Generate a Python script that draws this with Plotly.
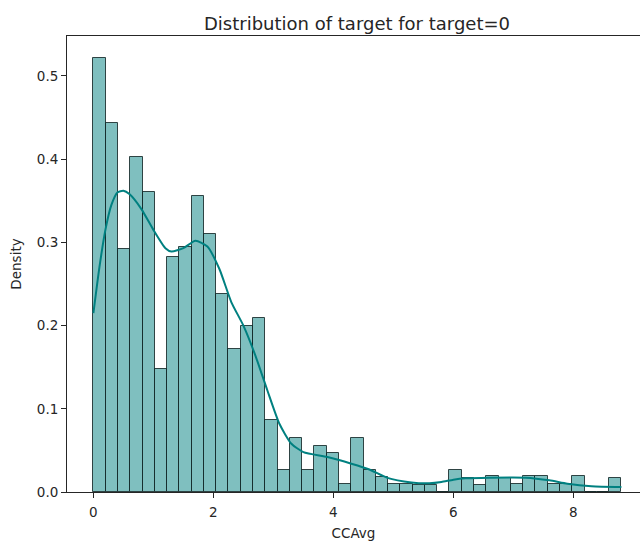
import numpy as np
import plotly.graph_objects as go

# ---- data ----
bin_start = 0.0
bin_end = 8.8
n_bins = 43
densities = [0.521, 0.443, 0.292, 0.402, 0.360, 0.148, 0.282, 0.295, 0.356, 0.310,
             0.238, 0.172, 0.200, 0.209, 0.087, 0.027, 0.065, 0.027, 0.055, 0.047,
             0.010, 0.065, 0.027, 0.018, 0.010, 0.010, 0.008, 0.008, 0.0, 0.027,
             0.017, 0.008, 0.019, 0.017, 0.010, 0.019, 0.019, 0.010, 0.010, 0.019,
             0.0, 0.0, 0.017]
kde_x = [0, 0.1, 0.2, 0.3, 0.4, 0.5, 0.6, 0.8, 1.0, 1.2, 1.3, 1.5, 1.7, 1.9, 2.1,
         2.3, 2.5, 2.7, 2.9, 3.1, 3.3, 3.5, 3.9, 4.3, 4.6, 4.9, 5.3, 5.6, 5.8, 6.0,
         6.2, 6.6, 7.2, 7.6, 7.9, 8.3, 8.8]
kde_y = [0.215, 0.27, 0.315, 0.345, 0.36, 0.362, 0.358, 0.34, 0.315, 0.293, 0.289,
         0.293, 0.302, 0.295, 0.268, 0.228, 0.2, 0.164, 0.122, 0.082, 0.058, 0.048,
         0.042, 0.034, 0.027, 0.017, 0.0115, 0.0105, 0.012, 0.0148, 0.0164, 0.0172,
         0.0172, 0.014, 0.010, 0.007, 0.006]
x_ticks = [0, 2, 4, 6, 8]
y_ticks = [0.0, 0.1, 0.2, 0.3, 0.4, 0.5]
title = "Distribution of target for target=0"
x_label = "CCAvg"
y_label = "Density"

edges = np.linspace(bin_start, bin_end, n_bins + 1)
width = edges[1] - edges[0]
centers = (edges[:-1] + edges[1:]) / 2

FONT = "DejaVu Sans"
fig = go.Figure()
fig.add_trace(go.Bar(
    x=centers, y=densities, width=width,
    marker=dict(color="rgba(0,128,128,0.5)",
                line=dict(color="rgba(20,40,40,0.85)", width=1)),
    showlegend=False, hoverinfo="skip"))
fig.add_trace(go.Scatter(
    x=kde_x, y=kde_y, mode="lines",
    line=dict(color="#008080", width=2, shape="spline", smoothing=0.6),
    showlegend=False))

fig.update_layout(
    width=640, height=541,
    margin=dict(l=67, r=0, t=36, b=49),
    paper_bgcolor="white", plot_bgcolor="white",
    bargap=0,
    font=dict(family=FONT, size=12, color="#262626"),
    title=dict(text=title, x=357 / 640, xref="container", xanchor="center",
               y=1 - 24 / 541, yref="container", yanchor="middle",
               font=dict(family=FONT, size=18, color="#262626")),
)
fig.update_xaxes(
    range=[-0.44, 9.11], tickvals=x_ticks, ticktext=[str(t) for t in x_ticks],
    showgrid=False, zeroline=False, showline=True, linecolor="#262626", linewidth=1,
    mirror=True, ticks="outside", ticklen=5, tickcolor="#262626",
    tickfont=dict(size=13.5), ticklabelstandoff=3,
    title=dict(text=x_label, font=dict(size=13.5), standoff=10),
)
fig.update_yaxes(
    range=[0, 0.548], tickvals=y_ticks, ticktext=[f"{t:.1f}" for t in y_ticks],
    showgrid=False, zeroline=False, showline=True, linecolor="#262626", linewidth=1,
    mirror=False, ticks="outside", ticklen=5, tickcolor="#262626",
    tickfont=dict(size=13.5),
    title=dict(text=y_label, font=dict(size=13.5), standoff=12),
)
fig.write_html("out.html")
